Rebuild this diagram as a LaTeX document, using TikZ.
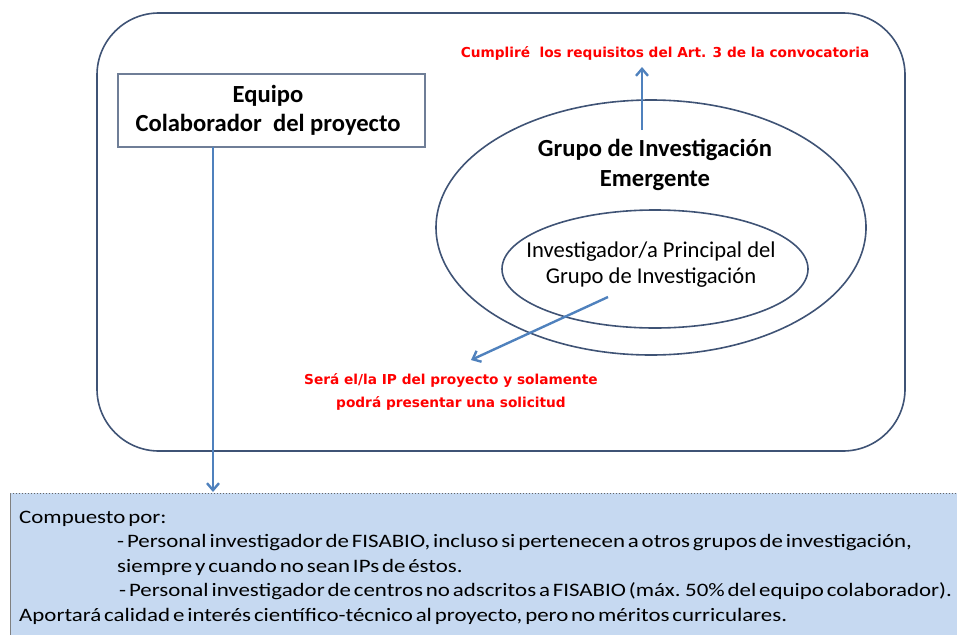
\documentclass[tikz,border=0pt]{standalone}
\usepackage{fontspec}
\setmainfont{Carlito}
\newfontfamily\bodyfont{Carlito}[FakeStretch=1.205,WordSpace=0.55]
\newfontfamily\redfont{DejaVu Sans}
\usetikzlibrary{shapes.geometric,arrows.meta}
\definecolor{edgecol}{HTML}{3F5375}
\definecolor{arrowblue}{HTML}{4F81BD}
\definecolor{fillblue}{HTML}{C6D9F1}
\definecolor{redtxt}{HTML}{FF0000}
\tikzset{
  frame/.style={draw=edgecol, line width=1.6pt},
  boldtxt/.style={font=\fontsize{24.6}{28}\selectfont\bfseries, text=black, inner sep=0pt},
  regtxt/.style={font=\fontsize{22.6}{26}\selectfont, text=black, inner sep=0pt},
  redlbl/.style={font=\redfont\fontsize{13.7}{16}\selectfont\bfseries, text=redtxt, inner sep=0pt},
  bodytxt/.style={font=\bodyfont\fontsize{19}{23}\selectfont, text=black, inner sep=0pt, anchor=base west},
  bluearrow/.style={draw=arrowblue, line width=2.4pt, -{Straight Barb[length=7pt,width=12pt,line width=2.4pt]}},
}
\begin{document}
\begin{tikzpicture}[x=1pt,y=-1pt]
\useasboundingbox (0,0) rectangle (957,634);
% bottom box
\node[fill=fillblue, minimum width=950pt, minimum height=145pt, inner sep=0pt, anchor=north west] (bottom) at (10,493) {};
\draw[gray!80!black, line width=1pt, dotted] (bottom.north west) -- (bottom.north east);
\draw[gray, line width=1pt] (bottom.north west) -- (bottom.south west);
% outer rounded frame
\node[frame, rounded corners=62pt, minimum width=808pt, minimum height=438pt, inner sep=0pt] (outer) at (501,232) {};
% Equipo box
\node[draw=edgecol!75, line width=1.5pt, minimum width=307pt, minimum height=73pt, inner sep=0pt] (equipo) at (271.5,110.5) {};
\node[boldtxt] (eq1) at (268,96) {Equipo};
\node[boldtxt] (eq2) at (268,125) {Colaborador\ \ del proyecto};
% ellipses
\node[frame, ellipse, minimum width=430pt, minimum height=255pt, inner sep=0pt] (grupo) at (651,227.5) {};
\node[frame, ellipse, minimum width=306pt, minimum height=118pt, inner sep=0pt] (ip) at (655,269) {};
\node[boldtxt] (g1) at (655,150) {Grupo de Investigación};
\node[boldtxt] (g2) at (655,181) {Emergente};
\node[regtxt] (i1) at (651,252) {Investigador/a Principal del};
\node[regtxt] (i2) at (651,278) {Grupo de Investigación};
% red labels
\node[redlbl] (req) at (665,53) {Cumpliré\ \ los requisitos del Art. 3 de la convocatoria};
\node[redlbl] (ipl1) at (451,380) {Será el/la IP del proyecto y solamente};
\node[redlbl] (ipl2) at (451,403) {podrá presentar una solicitud};
% arrows
\coordinate (upstart) at (642,130);
\coordinate (upend) at (642,67);
\draw[bluearrow] (upstart) -- (upend);
\coordinate (dstart) at (608,297);
\coordinate (dend) at (471,360);
\draw[bluearrow] (dstart) -- (dend);
\coordinate (vstart) at (213,147);
\coordinate (vend) at (213,492);
\draw[bluearrow] (vstart) -- (vend);
% bottom text
\node[bodytxt] (b1) at (19,523) {Compuesto por:};
\node[bodytxt] (b2) at (117,547) {- Personal investigador de FISABIO, incluso si pertenecen a otros grupos de investigación,};
\node[bodytxt] (b3) at (117,572) {siempre y cuando no sean IPs de éstos.};
\node[bodytxt] (b4) at (119,596) {- Personal investigador de centros no adscritos a FISABIO (máx. 50\% del equipo colaborador).};
\node[bodytxt] (b5) at (19,621) {Aportará calidad e interés científico-técnico al proyecto, pero no méritos curriculares.};
\end{tikzpicture}
\end{document}
